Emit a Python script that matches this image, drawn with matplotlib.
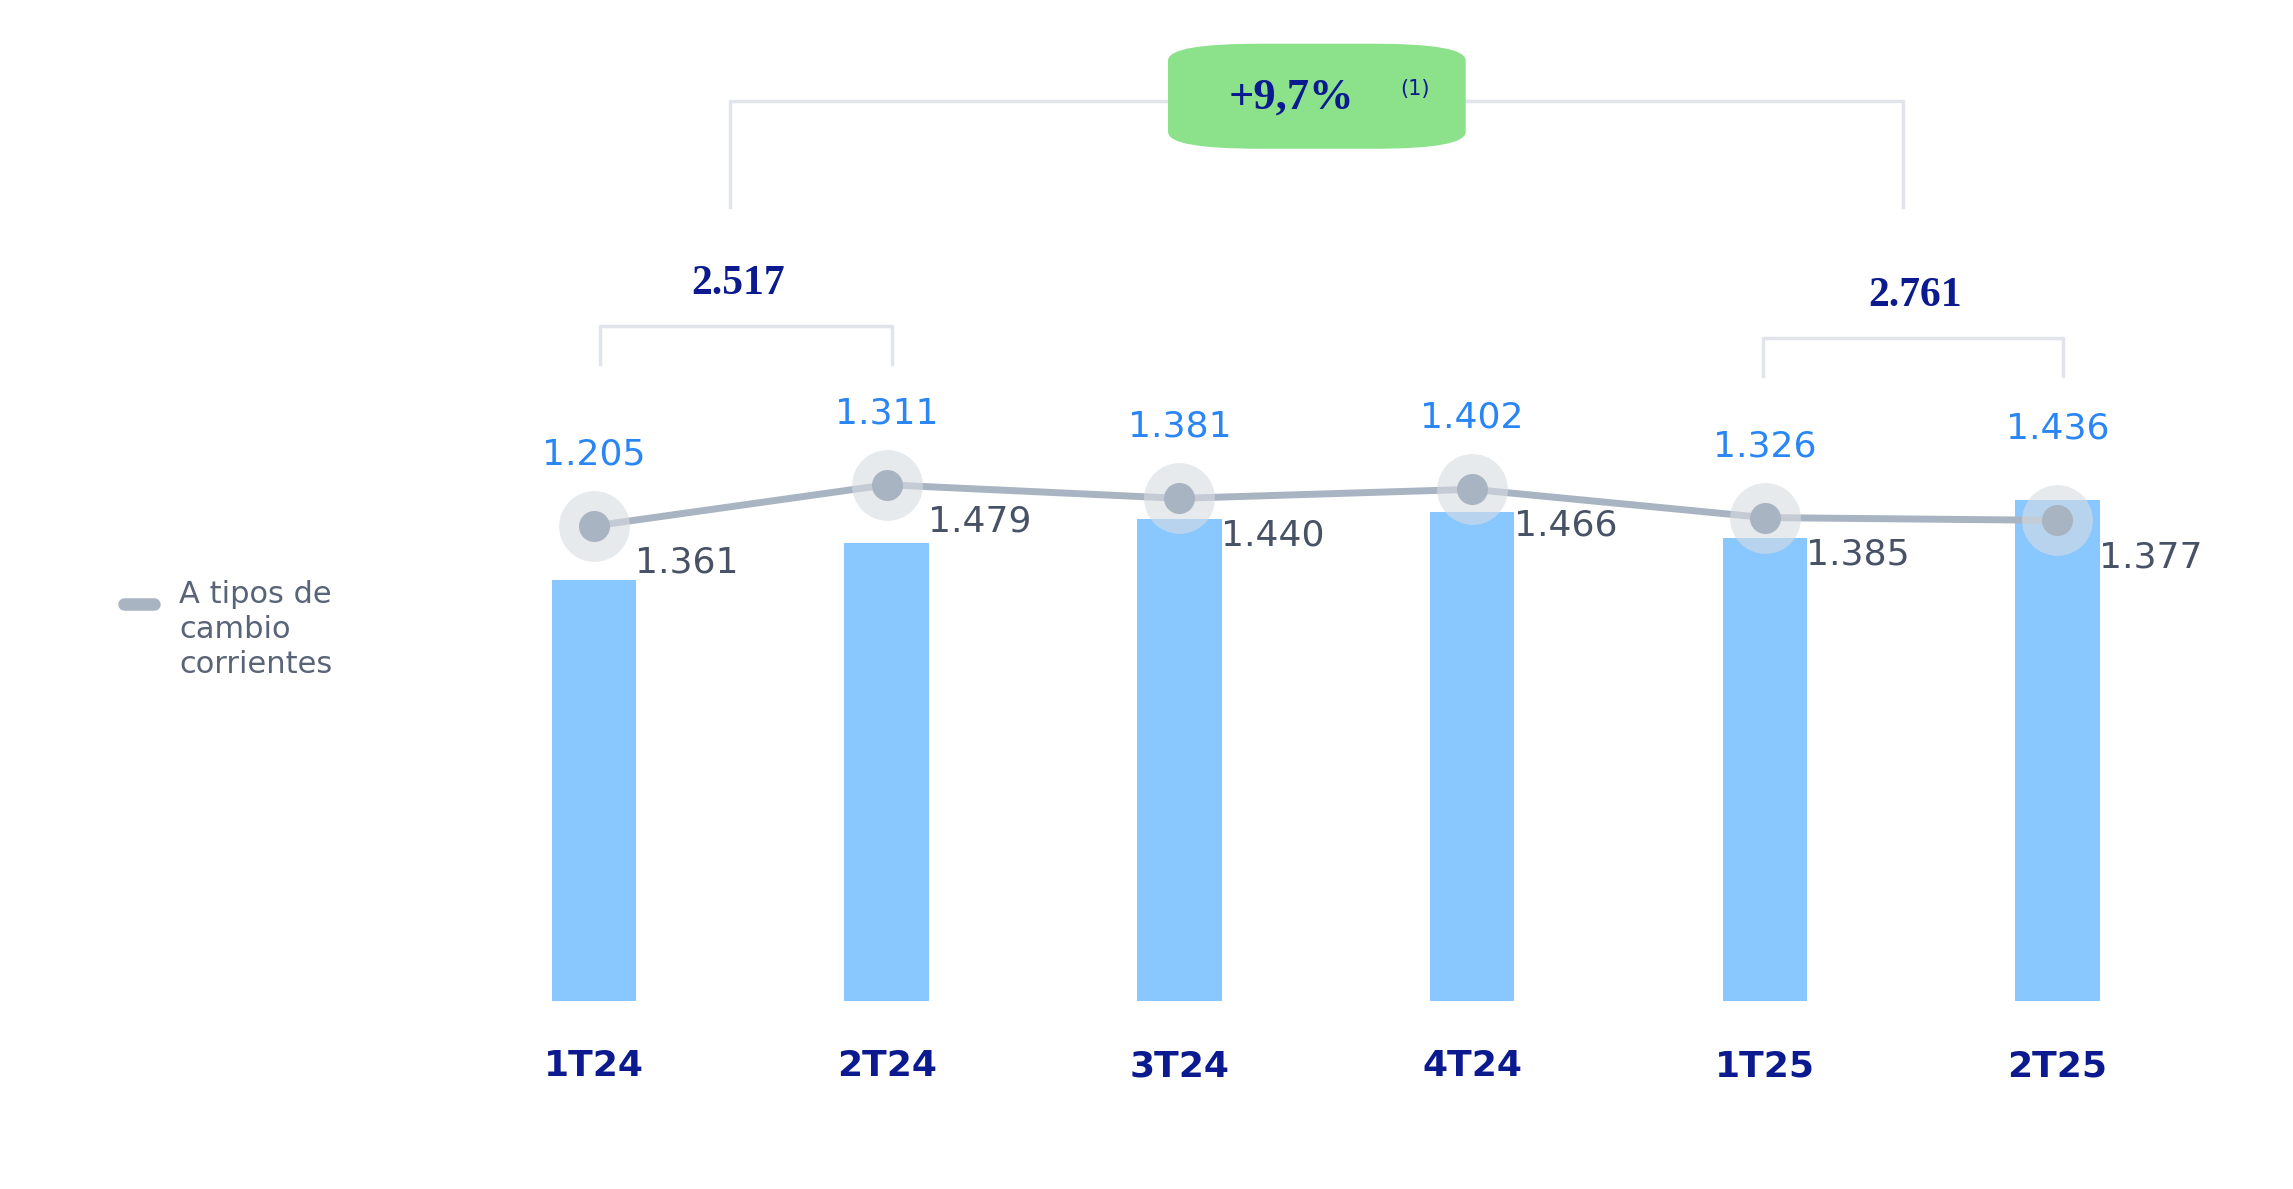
import matplotlib
matplotlib.use("Agg")
import matplotlib.pyplot as plt
from matplotlib.patches import FancyBboxPatch

categories = ["1T24", "2T24", "3T24", "4T24", "1T25", "2T25"]
bar_values = [1205, 1311, 1381, 1402, 1326, 1436]
line_values = [1361, 1479, 1440, 1466, 1385, 1377]
bar_labels = ["1.205", "1.311", "1.381", "1.402", "1.326", "1.436"]
line_labels = ["1.361", "1.479", "1.440", "1.466", "1.385", "1.377"]
sum_2024 = "2.517"
sum_2025 = "2.761"
growth = "+9,7%"

W, H = 1548.0, 803.0
fig = plt.figure(figsize=(22.93, 11.89), dpi=100)
ax = fig.add_axes([0, 0, 1, 1])
ax.axis("off")
scale = 0.2357
x0, dx = 401.0, 197.6
ax.set_xlim(-x0 / dx, (W - x0) / dx)
ax.set_ylim((676 - H) / scale, 676 / scale)

def X(px): return (px - x0) / dx
def Y(py): return (676 - py) / scale

xs = list(range(len(categories)))
navy = "#0B1A8E"
blue = "#2A86F5"
grey = "#A9B4C2"
dark = "#475266"
brk = "#E1E5EB"

ax.bar(xs, bar_values, width=57 / dx, color="#88C7FF", zorder=1)
ax.plot(xs, line_values, color=grey, lw=5, zorder=2, solid_capstyle="round")
ax.scatter(xs, line_values, s=2600, color="#D8DCE2", alpha=0.6, zorder=3, lw=0)
ax.scatter(xs, line_values, s=500, color=grey, zorder=4, lw=0)

for i in xs:
    top = max(bar_values[i], line_values[i])
    ax.text(i, top + 205, bar_labels[i], ha="center", va="center", color=blue, fontsize=26)
    ax.text(i + 28 / dx, line_values[i] - 105, line_labels[i], ha="left", va="center", color=dark, fontsize=26)
    ax.text(i, Y(720), categories[i], ha="center", va="center", color=navy, fontsize=26, fontweight="bold")

def bracket(xa, xb, ytop, ybot):
    ax.plot([X(xa), X(xa), X(xb), X(xb)], [Y(ybot), Y(ytop), Y(ytop), Y(ybot)], color=brk, lw=2.5, zorder=0)

bracket(405, 602, 220, 246)
bracket(1190, 1393, 228, 254)
ax.plot([X(493), X(493), X(790)], [Y(140), Y(68), Y(68)], color=brk, lw=2.5, zorder=0)
ax.plot([X(990), X(1285), X(1285)], [Y(68), Y(68), Y(140)], color=brk, lw=2.5, zorder=0)

ax.text(X(498), Y(192), sum_2024, ha="center", va="center", color=navy, fontsize=30,
        fontweight="bold", family="Liberation Serif")
ax.text(X(1293), Y(200), sum_2025, ha="center", va="center", color=navy, fontsize=30,
        fontweight="bold", family="Liberation Serif")

pill = FancyBboxPatch((789 / W, 1 - 100 / H), 200 / W, 70 / H, transform=fig.transFigure,
                      boxstyle="round,pad=0,rounding_size=0.04", color="#8BE28B", zorder=5,
                      mutation_aspect=H / W * 0.66)
fig.patches.append(pill)
fig.text(872 / W, 1 - 66 / H, growth, ha="center", va="center", color=navy, fontsize=32,
         fontweight="bold", family="Liberation Serif", zorder=6)
fig.text(945 / W, 1 - 60 / H, "(1)", ha="left", va="center", color=navy, fontsize=15, zorder=6)

ax.plot([X(84), X(104)], [Y(408), Y(408)], color=grey, lw=9, solid_capstyle="round")
ax.text(X(121), Y(392), "A tipos de\ncambio\ncorrientes", ha="left", va="top", color="#5A6478",
        fontsize=22, linespacing=1.25)

fig.savefig("out.png", dpi=100)
